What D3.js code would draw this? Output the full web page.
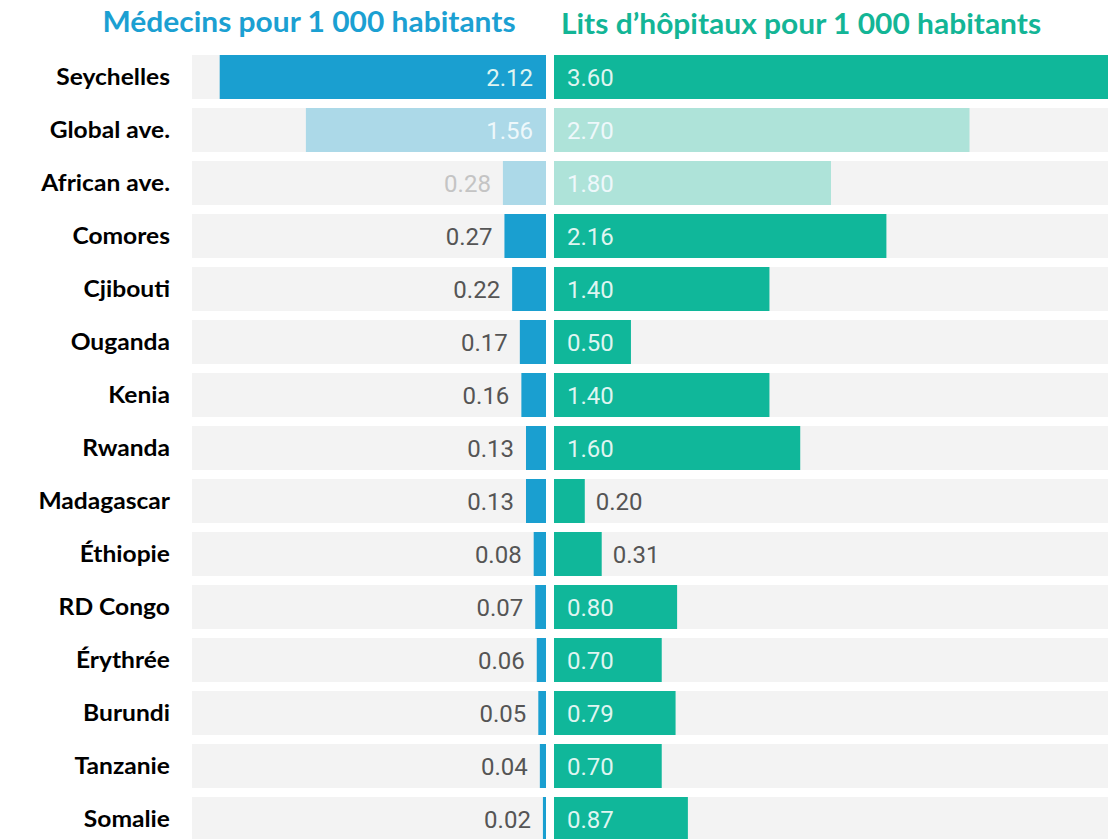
<!DOCTYPE html>
<html>
<head>
<meta charset="utf-8">
<script src="https://cdn.jsdelivr.net/npm/d3@7"></script>
<style>
  html, body { margin: 0; padding: 0; background: #ffffff; }
  svg { display: block; }
</style>
</head>
<body>
<svg id="chart" width="1115" height="839"></svg>
<script>
// Health capacity indicators per 1 000 inhabitants
const countries = ["Seychelles", "Global ave.", "African ave.", "Comores", "Cjibouti", "Ouganda", "Kenia",
  "Rwanda", "Madagascar", "Éthiopie", "RD Congo", "Érythrée", "Burundi", "Tanzanie", "Somalie"];
const doctors = [2.12, 1.56, 0.28, 0.27, 0.22, 0.17, 0.16, 0.13, 0.13, 0.08, 0.07, 0.06, 0.05, 0.04, 0.02];
const beds = [3.60, 2.70, 1.80, 2.16, 1.40, 0.50, 1.40, 1.60, 0.20, 0.31, 0.80, 0.70, 0.79, 0.70, 0.87];
const averageRows = ["Global ave.", "African ave."];
const titles = ["Médecins pour 1 000 habitants", "Lits d’hôpitaux pour 1 000 habitants"];

const rows = countries.map((c, i) => ({ country: c, doctors: doctors[i], beds: beds[i], avg: averageRows.includes(c) }));

const svg = d3.select("#chart");

const colors = {
  blue: "#1a9fd0", blueLight: "#acd9e8",
  teal: "#10b79a", tealLight: "#aee3d9",
  band: "#f3f3f3", text: "#555555"
};

const y = d3.scaleBand().domain(countries).range([50.5, 845.5]).paddingInner(0.17).paddingOuter(0.085);
const xL = d3.scaleLinear().domain([0, 2.3]).range([546, 192]);
const xR = d3.scaleLinear().domain([0, 3.6]).range([554, 1108]);
const yMid = d => y(d.country) + y.bandwidth() / 2;

// Titles (slightly widened bold humanist face)
svg.append("text").attr("transform", "translate(309,32) scale(1.07,1)").attr("text-anchor", "middle")
  .attr("font-family", "Lato").attr("font-weight", 700).attr("font-size", 28)
  .attr("fill", "#1ba0d2").text(titles[0]);
svg.append("text").attr("transform", "translate(801,34) scale(1.07,1)").attr("text-anchor", "middle")
  .attr("font-family", "Lato").attr("font-weight", 700).attr("font-size", 28)
  .attr("fill", "#13b596").text(titles[1]);

const g = svg.append("g");

// Background bands
g.selectAll("rect.bandL").data(rows).join("rect").attr("class", "bandL")
  .attr("x", xL(2.3)).attr("width", xL(0) - xL(2.3))
  .attr("y", d => y(d.country)).attr("height", y.bandwidth()).attr("fill", colors.band);
g.selectAll("rect.bandR").data(rows).join("rect").attr("class", "bandR")
  .attr("x", xR(0)).attr("width", xR(3.6) - xR(0))
  .attr("y", d => y(d.country)).attr("height", y.bandwidth()).attr("fill", colors.band);

// Bars
g.selectAll("rect.barL").data(rows).join("rect").attr("class", "barL")
  .attr("x", d => xL(d.doctors)).attr("width", d => xL(0) - xL(d.doctors))
  .attr("y", d => y(d.country)).attr("height", y.bandwidth())
  .attr("fill", d => d.avg ? colors.blueLight : colors.blue);
g.selectAll("rect.barR").data(rows).join("rect").attr("class", "barR")
  .attr("x", xR(0)).attr("width", d => xR(d.beds) - xR(0))
  .attr("y", d => y(d.country)).attr("height", y.bandwidth())
  .attr("fill", d => d.avg ? colors.tealLight : colors.teal);

const fmt = d3.format(".2f");
const labelColor = (d, inside) => inside ? (d.avg ? "#eef8fb" : "#dff5f1") : (d.avg ? "#c4c4c4" : colors.text);

// Value labels, doctors
g.selectAll("text.valL").data(rows).join("text").attr("class", "valL")
  .each(function (d) {
    const inside = xL(0) - xL(d.doctors) > 90;
    d3.select(this)
      .attr("x", inside ? xL(0) - 13 : xL(d.doctors) - 12)
      .attr("fill", labelColor(d, inside));
  })
  .attr("y", yMid).attr("dy", "0.36em")
  .attr("text-anchor", "end").attr("font-family", "Roboto").attr("font-size", 24)
  .text(d => fmt(d.doctors));

// Value labels, beds
g.selectAll("text.valR").data(rows).join("text").attr("class", "valR")
  .each(function (d) {
    const inside = xR(d.beds) - xR(0) > 60;
    d3.select(this)
      .attr("x", inside ? xR(0) + 13 : xR(d.beds) + 11)
      .attr("fill", labelColor(d, inside));
  })
  .attr("y", yMid).attr("dy", "0.36em")
  .attr("text-anchor", "start").attr("font-family", "Roboto").attr("font-size", 24)
  .text(d => fmt(d.beds));

// Country labels
g.selectAll("text.country").data(rows).join("text").attr("class", "country")
  .attr("transform", d => `translate(170,${yMid(d)}) scale(1.07,1)`).attr("dy", "0.34em")
  .attr("text-anchor", "end").attr("font-family", "Lato").attr("font-weight", 700)
  .attr("font-size", 23).attr("fill", "#000").text(d => d.country);
</script>
</body>
</html>
